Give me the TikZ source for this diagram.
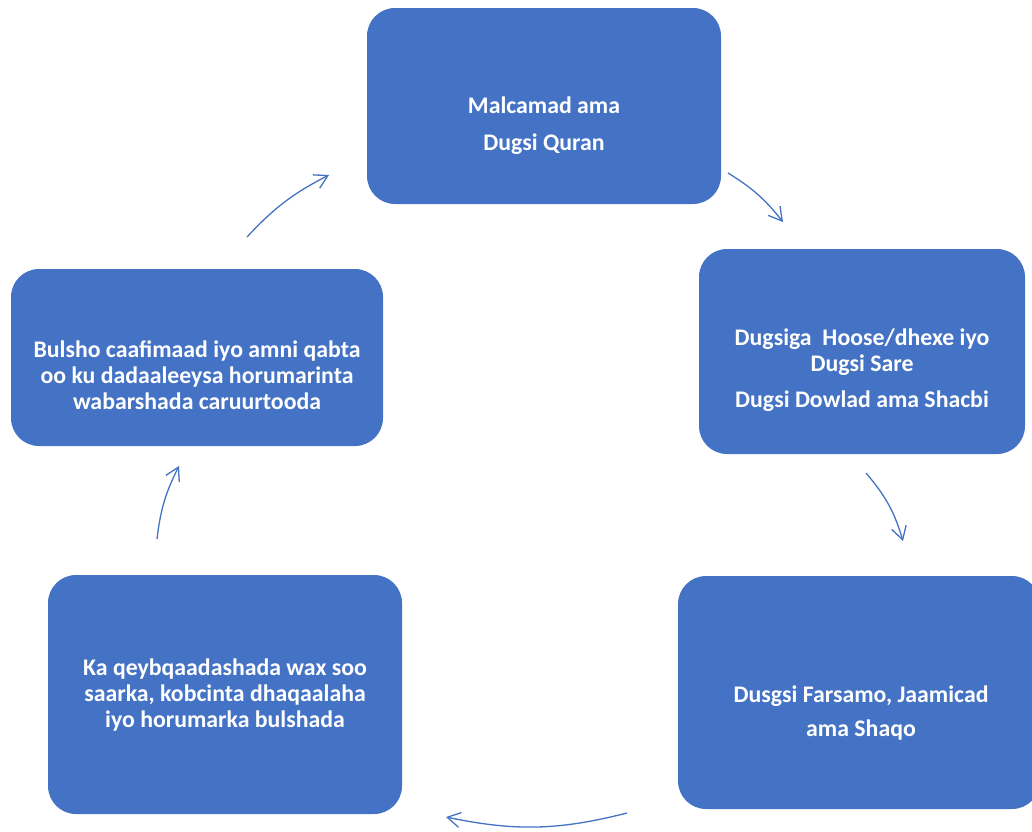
\documentclass[tikz,border=0pt]{standalone}
\usepackage{fontspec}
\setmainfont{Carlito}
\usetikzlibrary{arrows.meta}
\definecolor{boxblue}{HTML}{4472C4}

\begin{document}
\begin{tikzpicture}[x=1pt,y=-1pt,
  box/.style={fill=boxblue,rounded corners=28pt,inner sep=0pt},
  txt/.style={text=white,align=center,inner sep=0pt,font=\bfseries\fontsize{23.8}{26}\selectfont},
  link/.style={draw=boxblue,line width=1.3pt,->,>={Straight Barb[angle=60:15pt]},bend left=#1}]

  \useasboundingbox (0,0) rectangle (1032,831);

  % the five stages
  \node[box,minimum width=354pt,minimum height=196pt] (quran) at (544,106) {};
  \node[txt] (quran-t) at (544,126) {Malcamad ama\\[11pt] Dugsi Quran};

  \node[box,minimum width=326pt,minimum height=205pt] (sare) at (862,351.5) {};
  \node[txt] (sare-t) at (862,370) {Dugsiga\ \ Hoose/dhexe iyo\\ Dugsi Sare\\[10pt] Dugsi Dowlad ama Shacbi};

  \node[box,minimum width=362pt,minimum height=233pt] (shaqo) at (859,692.5) {};
  \node[txt] (shaqo-t) at (861,713) {Dusgsi Farsamo, Jaamicad\\[8pt] ama Shaqo};

  \node[box,minimum width=354pt,minimum height=239pt] (dhaqaale) at (225,694.5) {};
  \node[txt] (dhaqaale-t) at (225,695) {Ka qeybqaadashada wax soo\\ saarka, kobcinta dhaqaalaha\\ iyo horumarka bulshada};

  \node[box,minimum width=372pt,minimum height=177pt] (bulsho) at (197,357.5) {};
  \node[txt] (bulsho-t) at (197,375) {Bulsho caafimaad iyo amni qabta\\ oo ku dadaaleeysa horumarinta\\ wabarshada caruurtooda};

  % loose ends of the arrows
  \coordinate (a1) at (247,237);  \coordinate (b1) at (329,175);
  \coordinate (a2) at (728,173);  \coordinate (b2) at (783,222);
  \coordinate (a3) at (866,473);  \coordinate (b3) at (903,541);
  \coordinate (a4) at (627,813);  \coordinate (b4) at (446,817);
  \coordinate (a5) at (157,539);  \coordinate (b5) at (179,466);

  \draw[link=10] (a1) to (b1);
  \draw[link=10] (a2) to (b2);
  \draw[link=12] (a3) to (b3);
  \draw[link=13] (a4) to (b4);
  \draw[link=10] (a5) to (b5);
\end{tikzpicture}
\end{document}
